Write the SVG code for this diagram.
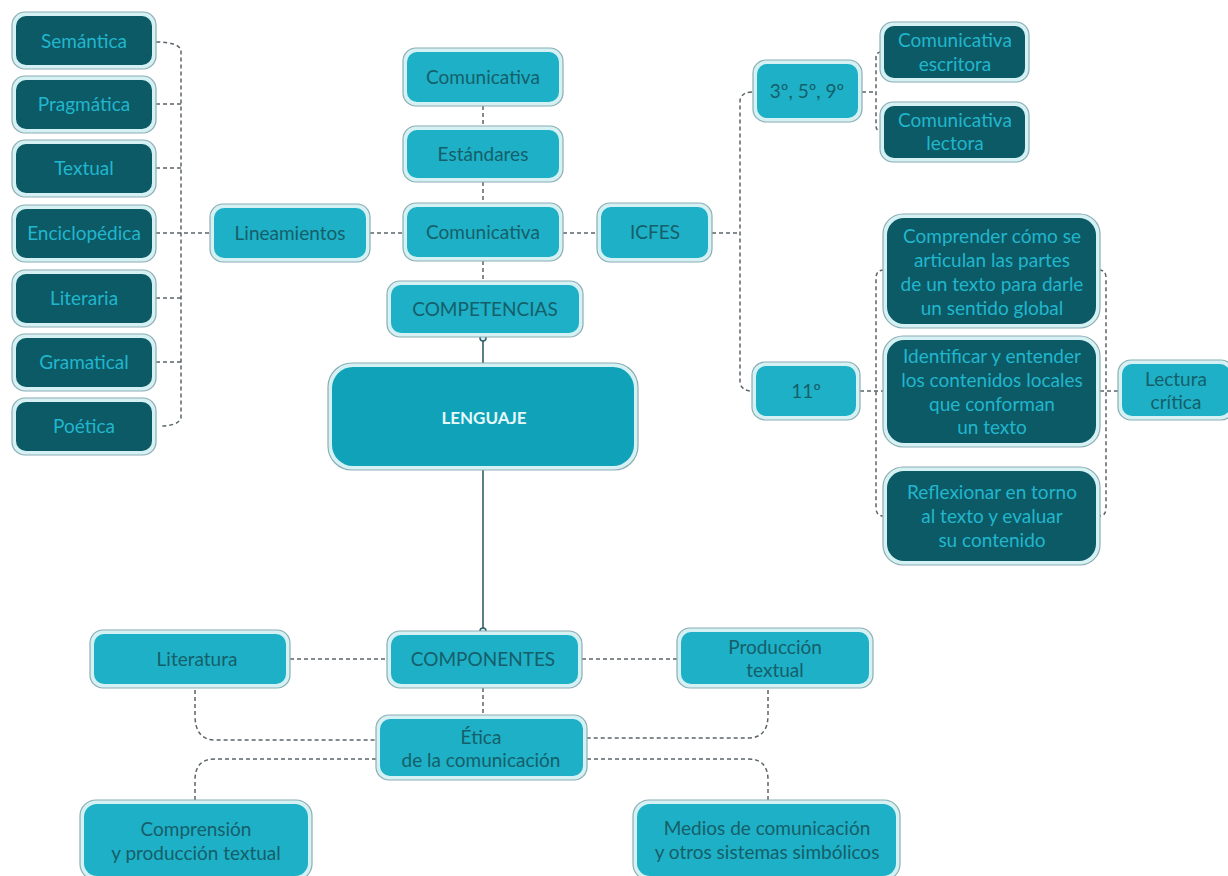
<svg xmlns="http://www.w3.org/2000/svg" width="1228" height="876" viewBox="0 0 1228 876">
<style>
.o{fill:#d6f1f4;stroke:#8aaeb3;stroke-width:1.2}
.l{fill:#1eb0c6}
.d{fill:#0b5a66}
.lt{font-family:Lato,"Open Sans",sans-serif;font-size:19px;fill:#155f6a;text-anchor:middle}
.dt{font-family:Lato,"Open Sans",sans-serif;font-size:19px;fill:#22b6cd;text-anchor:middle}
.c{fill:none;stroke:#5a6468;stroke-width:1.5;stroke-dasharray:4 3}
.s{fill:none;stroke:#2f5f66;stroke-width:1.6}
</style>
<rect width="1228" height="876" fill="#ffffff"/>
<g id="connectors">
<path class="c" d="M156 42 Q178 42 181 50 L181 418 Q178 426 160 426"/>
<path class="c" d="M156 104 H181 M156 168 H181 M156 298 H181 M156 362 H181"/>
<path class="c" d="M156 233 H212"/>
<path class="c" d="M370 233 H405"/>
<path class="c" d="M483 106 V126 M483 182 V203 M483 261 V282"/>
<path class="c" d="M563 233 H598"/>
<path class="c" d="M712 233 H740"/>
<path class="c" d="M752 92 Q742 92 740 100 L740 383 Q742 391 752 391"/>
<path class="c" d="M862 92 H876"/>
<path class="c" d="M881 52 Q876 52 876 58 L876 126 Q876 131 881 131"/>
<path class="c" d="M860 391 H883"/>
<path class="c" d="M884 270 Q876 270 876 278 L876 508 Q876 516 884 516"/>
<path class="c" d="M1099 270 Q1106 270 1106 278 L1106 508 Q1106 516 1099 516"/>
<path class="c" d="M1100 391 H1119"/>
<path class="s" d="M483 337 V364"/>
<circle cx="483" cy="338" r="3" fill="#d6f1f4" stroke="#2f5f66" stroke-width="1.5"/>
<path class="s" d="M483 470 V629"/>
<circle cx="483" cy="631" r="3" fill="#d6f1f4" stroke="#2f5f66" stroke-width="1.5"/>
<path class="c" d="M290 659 H387"/>
<path class="c" d="M582 659 H677"/>
<path class="c" d="M483 688 V715"/>
<path class="c" d="M195 690 V715 Q195 740 215 740 H376"/>
<path class="c" d="M768 690 V715 Q768 738 748 738 H587"/>
<path class="c" d="M376 759 H215 Q195 759 195 780 V800"/>
<path class="c" d="M587 759 H748 Q768 759 768 780 V800"/>
</g>
<g id="n-semantica"><rect class="o" x="12" y="12" width="144" height="57" rx="13"/><rect class="d" x="16" y="16" width="136" height="49" rx="10"/><text class="dt" x="84" y="48">Semántica</text></g>
<g id="n-pragmatica"><rect class="o" x="12" y="76" width="144" height="57" rx="13"/><rect class="d" x="16" y="80" width="136" height="49" rx="10"/><text class="dt" x="84" y="111">Pragmática</text></g>
<g id="n-textual"><rect class="o" x="12" y="140" width="144" height="57" rx="13"/><rect class="d" x="16" y="144" width="136" height="49" rx="10"/><text class="dt" x="84" y="175">Textual</text></g>
<g id="n-enciclopedica"><rect class="o" x="12" y="205" width="144" height="57" rx="13"/><rect class="d" x="16" y="209" width="136" height="49" rx="10"/><text class="dt" x="84" y="240">Enciclopédica</text></g>
<g id="n-literaria"><rect class="o" x="12" y="270" width="144" height="57" rx="13"/><rect class="d" x="16" y="274" width="136" height="49" rx="10"/><text class="dt" x="84" y="305">Literaria</text></g>
<g id="n-gramatical"><rect class="o" x="12" y="334" width="144" height="57" rx="13"/><rect class="d" x="16" y="338" width="136" height="49" rx="10"/><text class="dt" x="84" y="369">Gramatical</text></g>
<g id="n-poetica"><rect class="o" x="12" y="398" width="144" height="57" rx="13"/><rect class="d" x="16" y="402" width="136" height="49" rx="10"/><text class="dt" x="84" y="433">Poética</text></g>
<g id="n-lineamientos"><rect class="o" x="210" y="204" width="160" height="58" rx="13"/><rect class="l" x="214" y="208" width="152" height="50" rx="10"/><text class="lt" x="290" y="240">Lineamientos</text></g>
<g id="n-comunicativa-top"><rect class="o" x="403" y="48" width="160" height="58" rx="13"/><rect class="l" x="407" y="52" width="152" height="50" rx="10"/><text class="lt" x="483" y="84">Comunicativa</text></g>
<g id="n-estandares"><rect class="o" x="403" y="126" width="160" height="56" rx="13"/><rect class="l" x="407" y="130" width="152" height="48" rx="10"/><text class="lt" x="483" y="161">Estándares</text></g>
<g id="n-comunicativa"><rect class="o" x="403" y="203" width="160" height="58" rx="13"/><rect class="l" x="407" y="207" width="152" height="50" rx="10"/><text class="lt" x="483" y="239">Comunicativa</text></g>
<g id="n-competencias"><rect class="o" x="387" y="281" width="196" height="56" rx="13"/><rect class="l" x="391" y="285" width="188" height="48" rx="10"/><text class="lt" x="485" y="316">COMPETENCIAS</text></g>
<g id="n-lenguaje"><rect class="o" x="328" y="363" width="310" height="107" rx="24"/><rect class="l" x="332" y="367" width="302" height="99" rx="21" style="fill:#0fa2b9"/><text class="lt" x="484" y="424" style="fill:#e6f8fa;font-weight:bold;font-size:17px">LENGUAJE</text></g>
<g id="n-icfes"><rect class="o" x="597" y="203" width="115" height="59" rx="13"/><rect class="l" x="601" y="207" width="107" height="51" rx="10"/><text class="lt" x="655" y="239">ICFES</text></g>
<g id="n-359"><rect class="o" x="753" y="60" width="109" height="62" rx="13"/><rect class="l" x="757" y="64" width="101" height="54" rx="10"/><text class="lt" x="807" y="98">3º, 5º, 9º</text></g>
<g id="n-escritora"><rect class="o" x="880" y="22" width="149" height="60" rx="13"/><rect class="d" x="884" y="26" width="141" height="52" rx="10"/><text class="dt" x="955" y="47">Comunicativa</text><text class="dt" x="955" y="71">escritora</text></g>
<g id="n-lectora"><rect class="o" x="880" y="102" width="149" height="60" rx="13"/><rect class="d" x="884" y="106" width="141" height="52" rx="10"/><text class="dt" x="955" y="127">Comunicativa</text><text class="dt" x="955" y="150">lectora</text></g>
<g id="n-11"><rect class="o" x="752" y="362" width="108" height="58" rx="13"/><rect class="l" x="756" y="366" width="100" height="50" rx="10"/><text class="lt" x="806" y="398">11º</text></g>
<g id="n-comprender"><rect class="o" x="883" y="214" width="217" height="114" rx="20"/><rect class="d" x="887" y="218" width="209" height="106" rx="17"/><text class="dt" x="992" y="243">Comprender cómo se</text><text class="dt" x="992" y="267">articulan las partes</text><text class="dt" x="992" y="291">de un texto para darle</text><text class="dt" x="992" y="315">un sentido global</text></g>
<g id="n-identificar"><rect class="o" x="883" y="336" width="217" height="111" rx="20"/><rect class="d" x="887" y="340" width="209" height="103" rx="17"/><text class="dt" x="992" y="363">Identificar y entender</text><text class="dt" x="992" y="387">los contenidos locales</text><text class="dt" x="992" y="411">que conforman</text><text class="dt" x="992" y="434">un texto</text></g>
<g id="n-reflexionar"><rect class="o" x="883" y="467" width="217" height="98" rx="20"/><rect class="d" x="887" y="471" width="209" height="90" rx="17"/><text class="dt" x="992" y="499">Reflexionar en torno</text><text class="dt" x="992" y="523">al texto y evaluar</text><text class="dt" x="992" y="547">su contenido</text></g>
<g id="n-lectura"><rect class="o" x="1118" y="360" width="116" height="60" rx="13"/><rect class="l" x="1122" y="364" width="108" height="52" rx="10"/><text class="lt" x="1176" y="386">Lectura</text><text class="lt" x="1176" y="409">crítica</text></g>
<g id="n-componentes"><rect class="o" x="387" y="631" width="195" height="57" rx="13"/><rect class="l" x="391" y="635" width="187" height="49" rx="10"/><text class="lt" x="483" y="666">COMPONENTES</text></g>
<g id="n-literatura"><rect class="o" x="90" y="630" width="200" height="58" rx="13"/><rect class="l" x="94" y="634" width="192" height="50" rx="10"/><text class="lt" x="197" y="666">Literatura</text></g>
<g id="n-produccion"><rect class="o" x="677" y="628" width="196" height="60" rx="13"/><rect class="l" x="681" y="632" width="188" height="52" rx="10"/><text class="lt" x="775" y="654">Producción</text><text class="lt" x="775" y="677">textual</text></g>
<g id="n-etica"><rect class="o" x="376" y="715" width="211" height="65" rx="13"/><rect class="l" x="380" y="719" width="203" height="57" rx="10"/><text class="lt" x="481" y="744">Ética</text><text class="lt" x="481" y="767">de la comunicación</text></g>
<g id="n-comprension"><rect class="o" x="80" y="800" width="232" height="80" rx="16"/><rect class="l" x="84" y="804" width="224" height="72" rx="13"/><text class="lt" x="196" y="836">Comprensión</text><text class="lt" x="196" y="860">y producción textual</text></g>
<g id="n-medios"><rect class="o" x="633" y="800" width="267" height="80" rx="16"/><rect class="l" x="637" y="804" width="259" height="72" rx="13"/><text class="lt" x="767" y="835">Medios de comunicación</text><text class="lt" x="767" y="859">y otros sistemas simbólicos</text></g>
</svg>
